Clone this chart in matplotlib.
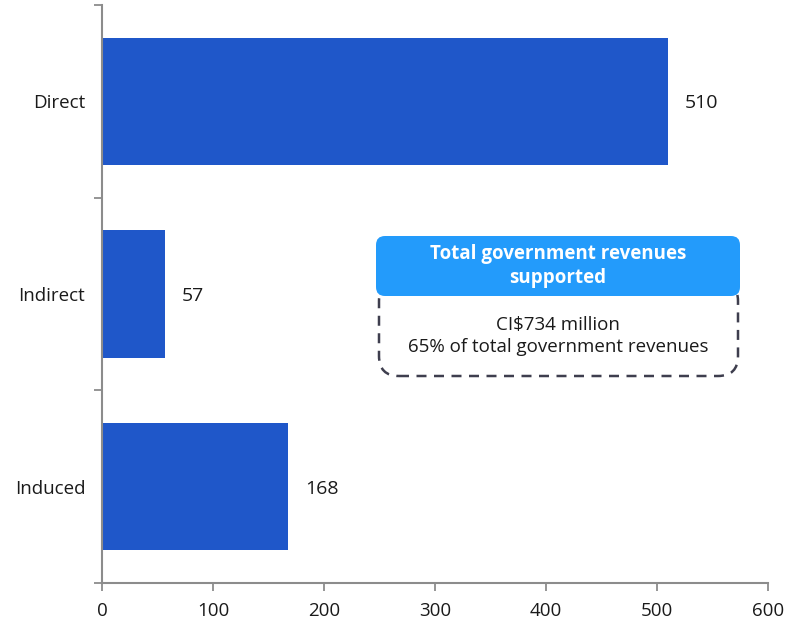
import matplotlib.pyplot as plt
from matplotlib.patches import FancyBboxPatch

plt.rcParams['font.family'] = ['Open Sans', 'DejaVu Sans']

categories = ['Direct', 'Indirect', 'Induced']
values = [510, 57, 168]
x_ticks = [0, 100, 200, 300, 400, 500, 600]

box_title = 'Total government revenues\nsupported'
box_lines = 'CI$734 million\n65% of total government revenues'

bar_color = '#1f57c9'
header_color = '#239bfb'
spine_color = '#8c8c8c'
text_color = '#1a1a1a'

fig = plt.figure(figsize=(8.02, 6.25), dpi=100)
ax = fig.add_axes([102 / 802, 42 / 625, 666 / 802, 578 / 625])

pos = list(range(len(categories)))
ax.barh(pos, values, height=0.66, color=bar_color, zorder=2)
for p, v in zip(pos, values):
    ax.annotate(f'{v}', xy=(v, p + 0.01), xytext=(12, 0), textcoords='offset points',
                va='center', ha='left', fontsize=14, color=text_color)

ax.set_xlim(0, 600)
ax.set_ylim(len(categories) - 0.5, -0.5)
ax.set_xticks(x_ticks)
ax.set_yticks(pos)
ax.set_yticklabels(categories)
ax.set_yticks([p - 0.5 for p in pos] + [len(categories) - 0.5], minor=True)

ax.tick_params(axis='y', which='major', length=0, pad=12, labelsize=13.5, labelcolor=text_color)
ax.tick_params(axis='y', which='minor', length=6, width=1.3, color=spine_color, direction='out')
ax.tick_params(axis='x', length=6, width=1.3, color=spine_color, pad=8, labelsize=13.5,
               labelcolor=text_color)

for side in ('top', 'right'):
    ax.spines[side].set_visible(False)
for side in ('left', 'bottom'):
    ax.spines[side].set_color(spine_color)
    ax.spines[side].set_linewidth(1.5)

# callout box, placed in inches on the figure
tr = fig.dpi_scale_trans
body = FancyBboxPatch((3.79, 6.25 - 3.76), 3.59, 0.95,
                      boxstyle='round,pad=0,rounding_size=0.2',
                      facecolor='white', edgecolor='#3e3e4e', linewidth=1.8,
                      linestyle=(0, (4, 3)), transform=tr, zorder=3)
fig.add_artist(body)
header = FancyBboxPatch((3.76, 6.25 - 2.96), 3.64, 0.60,
                        boxstyle='round,pad=0,rounding_size=0.09',
                        facecolor=header_color, edgecolor='none', transform=tr, zorder=4)
fig.add_artist(header)
fig.text(5.58 / 8.02, (6.25 - 2.66) / 6.25, box_title, ha='center', va='center',
         fontsize=13.5, fontweight='bold', color='white', linespacing=1.3, zorder=5)
fig.text(5.58 / 8.02, (6.25 - 3.36) / 6.25, box_lines, ha='center', va='center',
         fontsize=13.5, color=text_color, linespacing=1.35, zorder=5)

fig.savefig('out.png', dpi=100)
